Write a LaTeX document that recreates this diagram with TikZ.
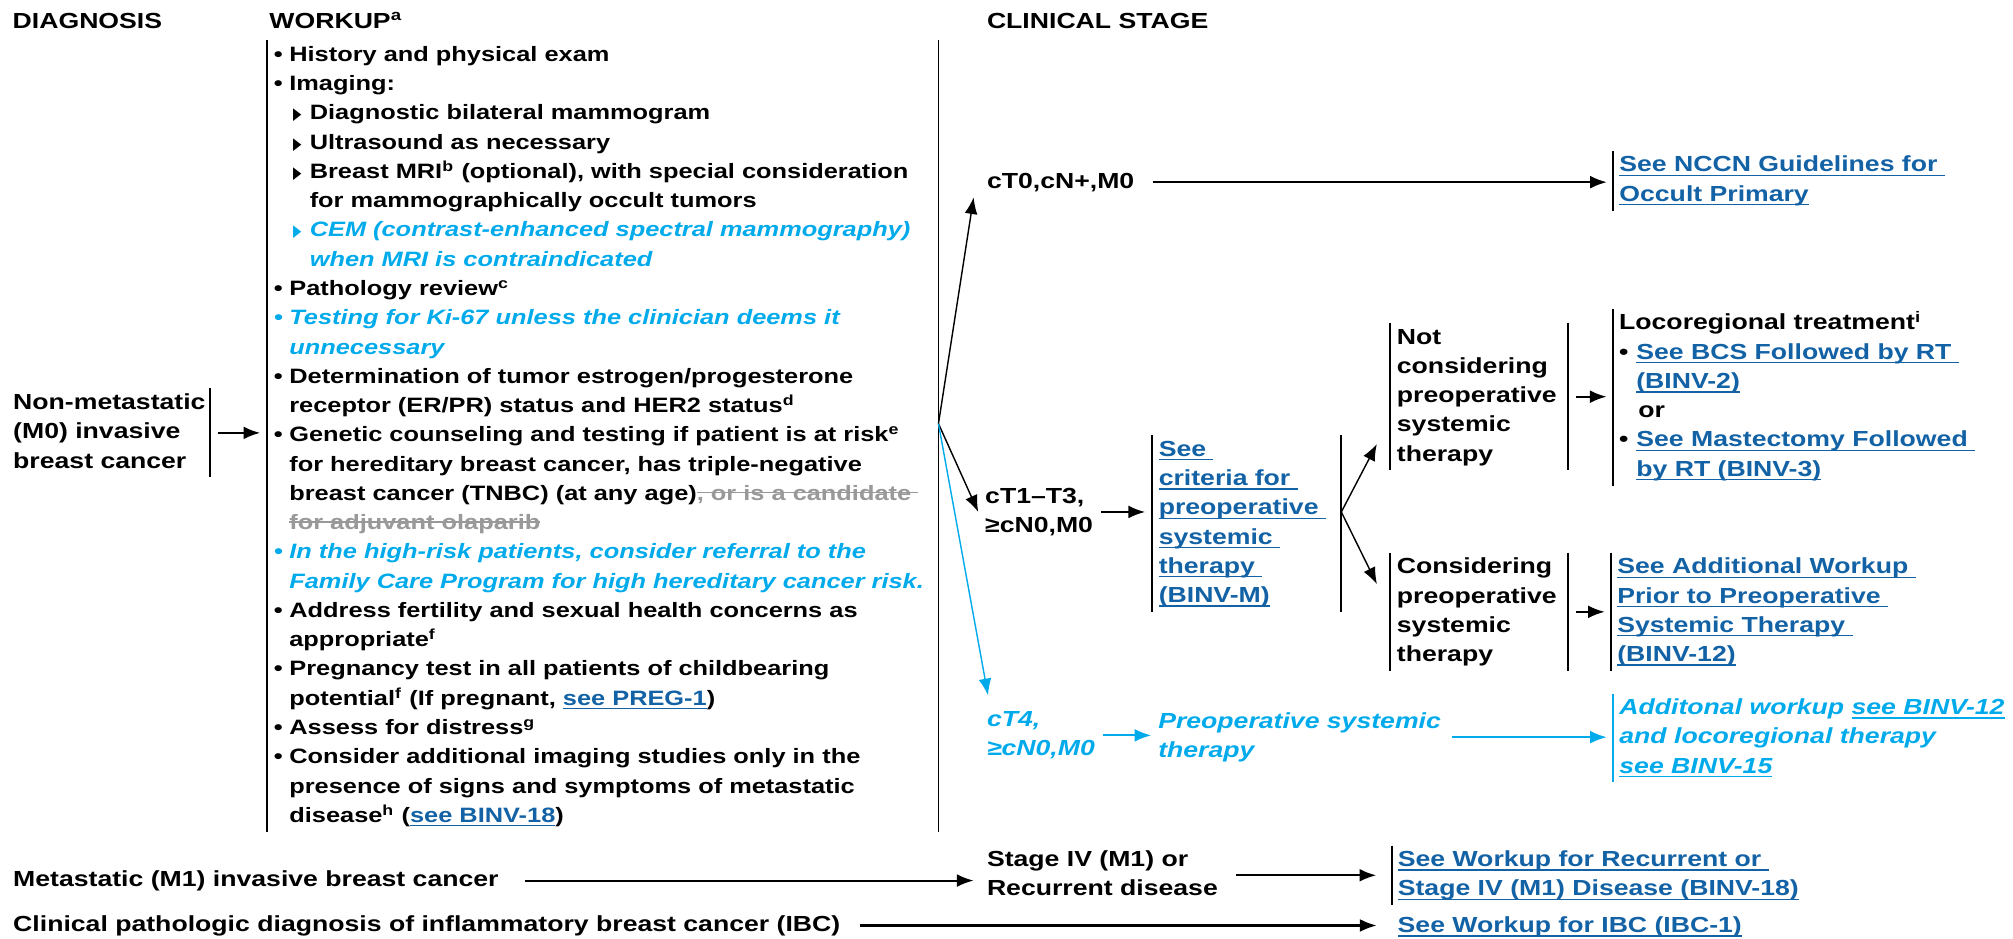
\documentclass[tikz,border=0pt]{standalone}
\usepackage{fontspec}
\setmainfont{Liberation Sans}[FakeStretch=1.22]
\newfontfamily\symfont{DejaVu Sans}
\usepackage{xcolor}
\usepackage{graphicx}
\usetikzlibrary{arrows.meta}

\definecolor{linkblue}{RGB}{18,98,165}
\definecolor{newblue}{RGB}{0,170,235}
\definecolor{strikegray}{RGB}{153,153,153}

\newcommand{\bodyfont}{\fontsize{8.5}{11.4}\selectfont\bfseries}
\newcommand{\wufont}{\fontsize{8.1}{11.4}\selectfont\bfseries}
\newcommand{\uln}[1]{\leavevmode{\setbox0\hbox{#1}\rlap{\rule[-1.6pt]{\wd0}{0.5pt}}\box0}}
\newcommand{\lnk}[1]{\leavevmode{\color{linkblue}\uln{#1}}}
\newcommand{\strk}[1]{\leavevmode{\color{strikegray}\setbox0\hbox{#1}\rlap{\rule[2.7pt]{\wd0}{0.55pt}}\box0}}
\newcommand{\bul}{\makebox[6pt][l]{\textbullet}}
\newcommand{\ind}{\hspace*{6pt}}
\newcommand{\tri}{\hspace*{7.5pt}\makebox[6.45pt][l]{\symfont\fontsize{6.5}{6.5}\selectfont\scalebox{0.65}[1]{▶}}}

\begin{document}
\begin{tikzpicture}[x=0.5pt,y=-0.5pt,
  >={Latex[length=6.5pt,width=5pt]},
  every node/.style={font=\bodyfont, align=left, inner sep=0pt, anchor=north west,
    execute at begin node=\strut, execute at end node=\strut},
  newc/.style={text=newblue, font=\bodyfont\itshape},
  lbox/.style={inner xsep=2.2pt},
  both/.style={inner xsep=2.6pt},
  bar/.style={line width=0.75pt},
  arr/.style={->, line width=0.8pt, shorten <=3pt, shorten >=2.5pt},
  fan/.style={->, line width=0.55pt}]
\useasboundingbox (0,0) rectangle (1568,731);

% column heads
\node (diag) at (9.5,5.5) {DIAGNOSIS};
\node (wuhead) at (209.5,5.5) {WORKUP\textsuperscript{a}};
\node (csthead) at (768.4,5.5) {CLINICAL STAGE};

% diagnosis
\node[inner xsep=1.5pt] (nonmeta) at (6.9,302.6) {\strut Non-metastatic\\(M0) invasive\\breast cancer};
\node (meta) at (9.9,674.1) {Metastatic (M1) invasive breast cancer};
\node (ibc) at (9.9,709.1) {Clinical pathologic diagnosis of inflammatory breast cancer (IBC)};

% workup
\node[inner xsep=2.65pt, font=\wufont] (workup) at (207.7,31.4) {%
\strut\bul History and physical exam\\
\bul Imaging:\\
\tri Diagnostic bilateral mammogram\\
\tri Ultrasound as necessary\\
\tri Breast MRI\textsuperscript{b} (optional), with special consideration\\
\hspace*{13.95pt}for mammographically occult tumors\\
{\color{newblue}\itshape\tri CEM (contrast-enhanced spectral mammography)}\\
{\color{newblue}\itshape\hspace*{13.95pt}when MRI is contraindicated}\\
\bul Pathology review\textsuperscript{c}\\
{\color{newblue}\itshape\bul Testing for Ki-67 unless the clinician deems it}\\
{\color{newblue}\itshape\ind unnecessary}\\
\bul Determination of tumor estrogen/progesterone\\
\ind receptor (ER/PR) status and HER2 status\textsuperscript{d}\\
\bul Genetic counseling and testing if patient is at risk\textsuperscript{e}\\
\ind for hereditary breast cancer, has triple-negative\\
\ind breast cancer (TNBC) (at any age)\strk{, or is a candidate }\\
\ind\strk{for adjuvant olaparib}\\
{\color{newblue}\itshape\bul In the high-risk patients, consider referral to the}\\
{\color{newblue}\itshape\ind Family Care Program for high hereditary cancer risk.}\\
\bul Address fertility and sexual health concerns as\\
\ind appropriate\textsuperscript{f}\\
\bul Pregnancy test in all patients of childbearing\\
\ind potential\textsuperscript{f} (If pregnant, \lnk{see PREG-1})\\
\bul Assess for distress\textsuperscript{g}\\
\bul Consider additional imaging studies only in the\\
\ind presence of signs and symptoms of metastatic\\
\ind disease\textsuperscript{h} (\lnk{see BINV-18})};
\coordinate (split) at (731,330);
\draw[bar] (workup.north west) -- (workup.south west);
\draw[bar] (workup.north west -| split) -- (workup.south west -| split);
\draw[bar] (nonmeta.north east) -- (nonmeta.south east);
\draw[arr] (nonmeta.east) -- (nonmeta.east -| workup.west);

% clinical stage
\node (ct0) at (768.4,130.1) {cT0,cN+,M0};
\node (ct13) at (767,375.6) {\strut cT1--T3,\\≥cN0,M0};
\node[newc] (ct4) at (768.4,549.6) {\strut cT4,\\≥cN0,M0};
\node (stage) at (768.4,658.6) {\strut Stage IV (M1) or\\Recurrent disease};

\draw[fan] (split) -- ([xshift=-5pt]ct0.south west);
\draw[fan] (split) -- ([xshift=-2.5pt]ct13.west);
\draw[fan, newblue] (split) -- ([xshift=0.6pt,yshift=4pt]ct4.north west);

% cT0
\node[lbox] (nccn) at (1256.6,117.6) {\strut\lnk{See NCCN Guidelines for }\\\lnk{Occult Primary}};
\draw[bar] (nccn.north west) -- (nccn.south west);
\draw[arr, shorten <=7pt] (ct0.east) -- (ct0.east -| nccn.west);

% cT1-T3
\node[both, text width=68.3pt] (crit) at (897,339) {\strut\lnk{See }\\\lnk{criteria for }\\\lnk{preoperative }\\\lnk{systemic }\\\lnk{therapy }\\\lnk{(BINV-M)}};
\draw[bar] (crit.north west) -- (crit.south west);
\draw[bar] (crit.north east) -- (crit.south east);
\draw[arr] (ct13.east) -- (ct13.east -| crit.west);
\coordinate (fork) at (crit.east |- ct13.east);

\node[both, text width=64pt] (notc) at (1082.5,251.6) {\strut Not\\considering\\preoperative\\systemic\\therapy};
\node[both, text width=64pt] (cons) at (1082.5,430.6) {\strut Considering\\preoperative\\systemic\\therapy};
\foreach \n in {notc,cons}{
  \draw[bar] (\n.north west) -- (\n.south west);
  \draw[bar] (\n.north east) -- (\n.south east);
}
\draw[fan] (fork) -- ([xshift=-5pt,yshift=10.3pt]notc.south west);
\draw[fan] (fork) -- ([xshift=-5pt,yshift=-12.2pt]cons.north west);

\node[lbox] (loc) at (1256.4,240.6) {\strut Locoregional treatment\textsuperscript{i}\\
\makebox[6.7pt][l]{\textbullet}\lnk{See BCS Followed by RT }\\
\hspace*{6.7pt}\lnk{(BINV-2)}\\
\hspace*{7.5pt}or\\
\makebox[6.7pt][l]{\textbullet}\lnk{See Mastectomy Followed }\\
\hspace*{6.7pt}\lnk{by RT (BINV-3)}};
\node[lbox] (addl) at (1255,430.6) {\strut\lnk{See Additional Workup }\\\lnk{Prior to Preoperative }\\\lnk{Systemic Therapy }\\\lnk{(BINV-12)}};
\draw[bar] (loc.north west) -- (loc.south west);
\draw[bar] (addl.north west) -- (addl.south west);
\draw[arr] (notc.east) -- (notc.east -| loc.west);
\draw[arr] (cons.east) -- (cons.east -| addl.west);

% cT4
\node[newc] (preop) at (901.8,551) {\strut Preoperative systemic\\therapy};
\node[lbox, newc] (adlb) at (1256.6,540.2) {\strut Additonal workup \uln{see BINV-12}\\and locoregional therapy\\\uln{see BINV-15}};
\draw[bar, newblue] (adlb.north west) -- (adlb.south west);
\draw[arr, newblue] (ct4.east) -- (ct4.east -| preop.west);
\draw[arr, newblue, shorten <=4pt] (preop.east) -- (preop.east -| adlb.west);

% metastatic and IBC
\node[lbox] (stagelink) at (1084,658.6) {\strut\lnk{See Workup for Recurrent or }\\\lnk{Stage IV (M1) Disease (BINV-18)}};
\draw[bar] (stagelink.north west) -- (stagelink.south west);
\node (ibclink) at (1088.3,710.1) {\lnk{See Workup for IBC (IBC-1)}};
\draw[arr, shorten <=10pt, shorten >=5pt] (meta.east) -- (meta.east -| stage.west);
\draw[arr, shorten <=7pt, shorten >=6pt] (stage.east) -- (stage.east -| stagelink.west);
\draw[arr, shorten <=7.5pt, shorten >=8pt] (ibc.east) -- (ibc.east -| ibclink.west);
\end{tikzpicture}
\end{document}
